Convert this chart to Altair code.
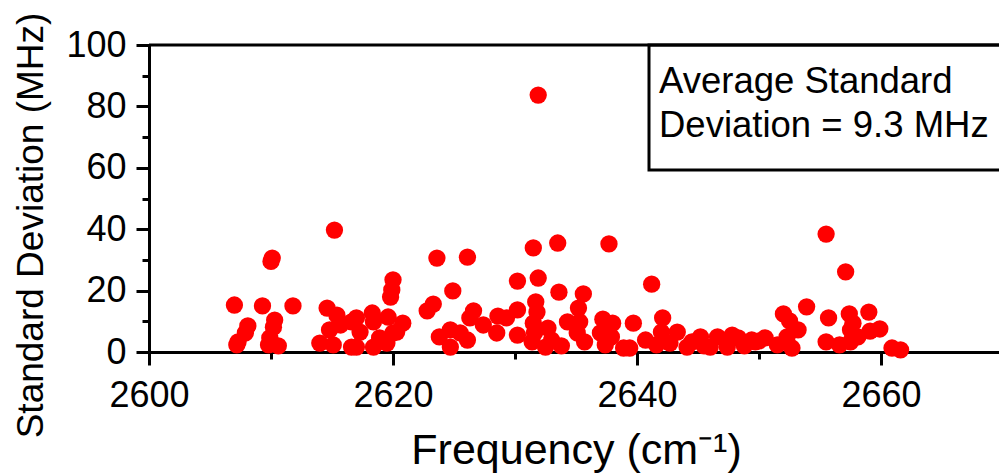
import altair as alt
import pandas as pd

freq = [
    2615.2, 2610.1, 2610.0, 2607.0, 2609.3, 2611.8, 2614.6, 2608.1, 2607.9, 2607.3,
    2607.2, 2610.3, 2610.2, 2609.9, 2609.8, 2610.6, 2615.4, 2615.7, 2614.8, 2614.0,
    2615.1, 2616.6, 2616.6,
    2623.6, 2626.1, 2620.0, 2619.9, 2619.8, 2624.9, 2623.3, 2622.8, 2626.6, 2626.3,
    2627.4, 2617.0, 2618.3, 2618.4, 2619.6, 2620.8, 2620.3, 2617.3, 2617.0, 2618.4,
    2619.5, 2618.9, 2620.0, 2623.8, 2624.7, 2624.7, 2625.5, 2626.1,
    2631.9, 2631.5, 2633.5, 2637.7, 2630.2, 2631.9, 2633.6, 2635.6, 2635.2, 2631.7,
    2630.2, 2628.6, 2629.3, 2628.5, 2630.2, 2631.8, 2631.5, 2632.7, 2631.6, 2631.4,
    2632.5, 2633.0, 2633.8, 2634.3, 2635.3, 2635.1, 2635.7, 2637.2, 2638.0, 2637.0,
    2637.9, 2637.4, 2638.9,
    2641.2, 2639.7, 2642.1, 2640.7, 2639.4, 2642.0, 2643.3, 2641.6, 2642.7, 2644.1,
    2645.2, 2646.6, 2647.8, 2648.3, 2646.0, 2647.4, 2649.4, 2645.5, 2648.8, 2650.0,
    2644.5,
    2655.5, 2657.1, 2653.9, 2652.0, 2652.5, 2653.2, 2655.7, 2657.4, 2657.7, 2657.5,
    2659.0, 2659.9, 2659.1, 2658.1, 2655.5, 2656.6, 2657.5, 2650.5, 2651.5, 2652.3,
    2652.7, 2649.7, 2660.9, 2661.6,
]
std_dev = [
    39.7, 30.6, 29.5, 15.3, 15.0, 15.0, 14.3, 8.5, 6.2, 3.3,
    2.3, 10.4, 8.1, 4.6, 2.3, 2.0, 12.0, 8.8, 7.2, 2.9,
    2.3, 9.8, 1.6,
    30.6, 30.9, 23.5, 20.2, 17.9, 19.9, 15.6, 13.4, 13.4, 11.1,
    8.8, 11.1, 12.7, 9.8, 11.4, 9.4, 6.5, 6.5, 1.6, 1.6,
    2.9, 4.6, 6.2, 4.9, 7.2, 1.6, 6.2, 3.9,
    83.7, 33.9, 35.5, 35.2, 23.1, 24.1, 19.5, 18.9, 14.3, 16.3,
    13.7, 11.7, 11.1, 6.2, 5.5, 13.0, 9.4, 7.8, 6.2, 3.3,
    1.6, 3.9, 2.0, 9.8, 9.8, 6.2, 3.3, 10.7, 9.4, 6.2,
    4.9, 2.3, 1.3,
    22.1, 9.4, 11.1, 3.9, 1.3, 6.5, 6.5, 2.3, 2.9, 1.6,
    4.9, 4.9, 5.5, 4.6, 1.6, 1.6, 3.9, 2.0, 2.0, 3.6,
    3.3,
    38.4, 26.1, 14.7, 12.4, 10.1, 7.2, 11.1, 12.4, 9.4, 7.2,
    13.0, 7.5, 6.8, 4.9, 3.3, 2.3, 3.3, 4.6, 2.3, 4.9,
    1.3, 3.3, 1.3, 0.7,
]
x_ticks = [2600, 2610, 2620, 2630, 2640, 2650, 2660]
y_ticks = [0, 10, 20, 30, 40, 50, 60, 70, 80, 90, 100]
note_lines = ["Average Standard", "Deviation = 9.3 MHz"]

df = pd.DataFrame({"freq": freq, "sd": std_dev})
one = pd.DataFrame({"k": [0]})

W, H = 850, 307
FONT = "Liberation Sans"

xscale = alt.Scale(domain=[2600, 2669.67], nice=False, zero=False)
yscale = alt.Scale(domain=[0, 100], nice=False)

points = alt.Chart(df).mark_circle(size=300, color="#FF0000", opacity=1).encode(
    x=alt.X("freq:Q", scale=xscale,
            axis=alt.Axis(
                values=x_ticks,
                labelExpr="datum.value % 20 == 0 ? datum.label : ''",
                tickSize={"condition": {"test": "datum.value % 20 == 0", "value": 13}, "value": 7},
                tickWidth=3, domainWidth=3, tickColor="black", domainColor="black",
                labelFontSize=36, labelFont=FONT, labelColor="black",
                labelPadding=13, grid=False, format="d",
                title="Frequency (cm⁻¹)", titleFont=FONT, titleFontSize=43,
                titleFontWeight="normal", titleColor="black",
                titleX=427, titleY=111, titleAlign="center",
                titleBaseline="alphabetic", labelFlush=False, labelOverlap=False)),
    y=alt.Y("sd:Q", scale=yscale,
            axis=alt.Axis(
                values=y_ticks,
                labelExpr="datum.value % 20 == 0 ? datum.label : ''",
                tickSize={"condition": {"test": "datum.value % 20 == 0", "value": 13}, "value": 7},
                tickWidth=3, domainWidth=3, tickColor="black", domainColor="black",
                labelFontSize=36, labelFont=FONT, labelColor="black",
                labelPadding=10, grid=False,
                title="Standard Deviation (MHz)", titleFont=FONT, titleFontSize=37,
                titleFontWeight="normal", titleColor="black",
                titleX=-107, titleY=180, titleAlign="center", titleAngle=-90,
                titleBaseline="alphabetic", labelFlush=False, labelOverlap=False)),
)

top_line = alt.Chart(one).mark_rule(color="black", strokeWidth=3).encode(
    x=alt.value(0), x2=alt.value(W + 5), y=alt.value(0)
)

box = alt.Chart(one).mark_rect(fill=None, stroke="black", strokeWidth=3).encode(
    x=alt.value(500), x2=alt.value(W + 10), y=alt.value(0), y2=alt.value(125)
)

note = alt.Chart(one).mark_text(
    text=note_lines, align="left", baseline="alphabetic", font=FONT,
    fontSize=36.5, lineHeight=44, color="black"
).encode(x=alt.value(510), y=alt.value(48))

chart = alt.layer(top_line, box, points, note).properties(
    width=W, height=H,
    autosize=alt.AutoSizeParams(type="none"),
    padding={"left": 149, "top": 45, "right": 0, "bottom": 474 - 45 - H},
).configure_view(stroke=None).configure(background="white")

chart.save("out.html", embed_options={"renderer": "svg", "actions": False})
